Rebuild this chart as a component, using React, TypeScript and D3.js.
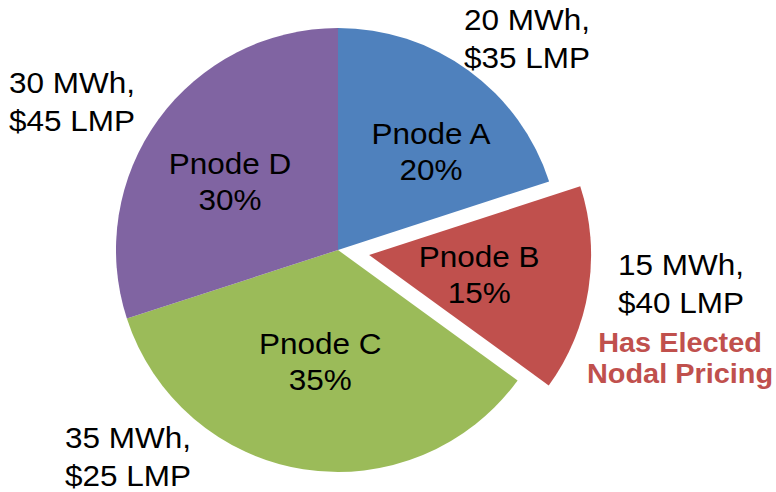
import React, { useEffect, useRef } from 'react';
import * as d3 from 'd3';

// Chart data
const NODES = ['Pnode A', 'Pnode B', 'Pnode C', 'Pnode D'];
const SHARES = [20, 15, 35, 30];
const MWH = [20, 15, 35, 30];
const LMP = [35, 40, 25, 45];
const EXPLODED = ['Pnode B'];
const NOTE_LINES = ['Has Elected', 'Nodal Pricing'];

const COLORS = ['#4F81BD', '#C0504D', '#9BBB59', '#8064A2'];

// Layout (pixels)
const W = 776;
const H = 492;
const CX = 338;
const CY = 250;
const R = 222;
const EXPLODE_PX = 31.5;
// label centre relative to the slice centroid (r = 120)
const INNER_NUDGE: Record<string, [number, number]> = {
  'Pnode A': [22.5, -1.5],
  'Pnode B': [-8.5, 0],
  'Pnode C': [1, -8],
  'Pnode D': [-11, 1.5],
};
// outside label positions (centre x, first baseline)
const OUTER_POS: Record<string, [number, number]> = {
  'Pnode A': [527, 30],
  'Pnode B': [681, 275],
  'Pnode C': [128, 448],
  'Pnode D': [72, 93],
};
const FONT = '"Liberation Sans", Arial, sans-serif';
const STRETCH = 1.05;

export default function App() {
  const svgRef = useRef<SVGSVGElement>(null);

  useEffect(() => {
    if (!svgRef.current) return;
    const svg = d3.select(svgRef.current);
    svg.selectAll('*').remove();

    const data = NODES.map((name, i) => ({ name, value: SHARES[i], i }));
    const pie = d3.pie<typeof data[0]>().sort(null).value(d => d.value);
    const arcs = pie(data);

    const arc = d3.arc<d3.PieArcDatum<typeof data[0]>>().innerRadius(0).outerRadius(R);
    const labelArc = d3.arc<d3.PieArcDatum<typeof data[0]>>().innerRadius(0).outerRadius(240);

    const shift = (a: d3.PieArcDatum<typeof data[0]>) => {
      if (!EXPLODED.includes(a.data.name)) return [0, 0];
      const mid = (a.startAngle + a.endAngle) / 2;
      return [Math.sin(mid) * EXPLODE_PX, -Math.cos(mid) * EXPLODE_PX];
    };

    const g = svg.append('g').attr('transform', `translate(${CX},${CY})`);

    // 1. slices
    g.selectAll('.slice')
      .data(arcs)
      .enter().append('path')
      .attr('class', 'slice')
      .attr('d', d => arc(d) as string)
      .attr('transform', d => `translate(${shift(d).join(',')})`)
      .attr('fill', d => COLORS[d.data.i]);

    // 2. inside labels
    arcs.forEach(a => {
      const [sx, sy] = shift(a);
      const [cx, cy] = labelArc.centroid(a);
      const [nx, ny] = INNER_NUDGE[a.data.name];
      const x = cx + sx + nx;
      const y = cy + sy + ny;
      const t = g.append('g').attr('transform', `translate(${x},${y}) scale(${STRETCH},1)`);
      [a.data.name, `${a.data.value}%`].forEach((line, k) => {
        t.append('text')
          .attr('y', -7 + k * 36)
          .attr('text-anchor', 'middle')
          .attr('font-family', FONT)
          .attr('font-size', 30)
          .attr('fill', '#000')
          .text(line);
      });
    });

    // 3. outside labels
    NODES.forEach((name, i) => {
      const [x, y] = OUTER_POS[name];
      const t = svg.append('g').attr('transform', `translate(${x},${y}) scale(${STRETCH},1)`);
      [`${MWH[i]} MWh,`, `$${LMP[i]} LMP`].forEach((line, k) => {
        t.append('text')
          .attr('y', k * 38)
          .attr('text-anchor', 'middle')
          .attr('font-family', FONT)
          .attr('font-size', 30)
          .attr('fill', '#000')
          .text(line);
      });
    });

    // 4. note under exploded slice
    const note = svg.append('g').attr('transform', `translate(680,352) scale(1.07,1)`);
    NOTE_LINES.forEach((line, k) => {
      note.append('text')
        .attr('y', k * 31)
        .attr('text-anchor', 'middle')
        .attr('font-family', FONT)
        .attr('font-size', 27)
        .attr('font-weight', 'bold')
        .attr('fill', COLORS[1])
        .text(line);
    });
  }, []);

  return (
    <svg
      ref={svgRef}
      width={W}
      height={H}
      style={{ position: 'absolute', left: 0, top: 0, background: '#fff' }}
    />
  );
}
